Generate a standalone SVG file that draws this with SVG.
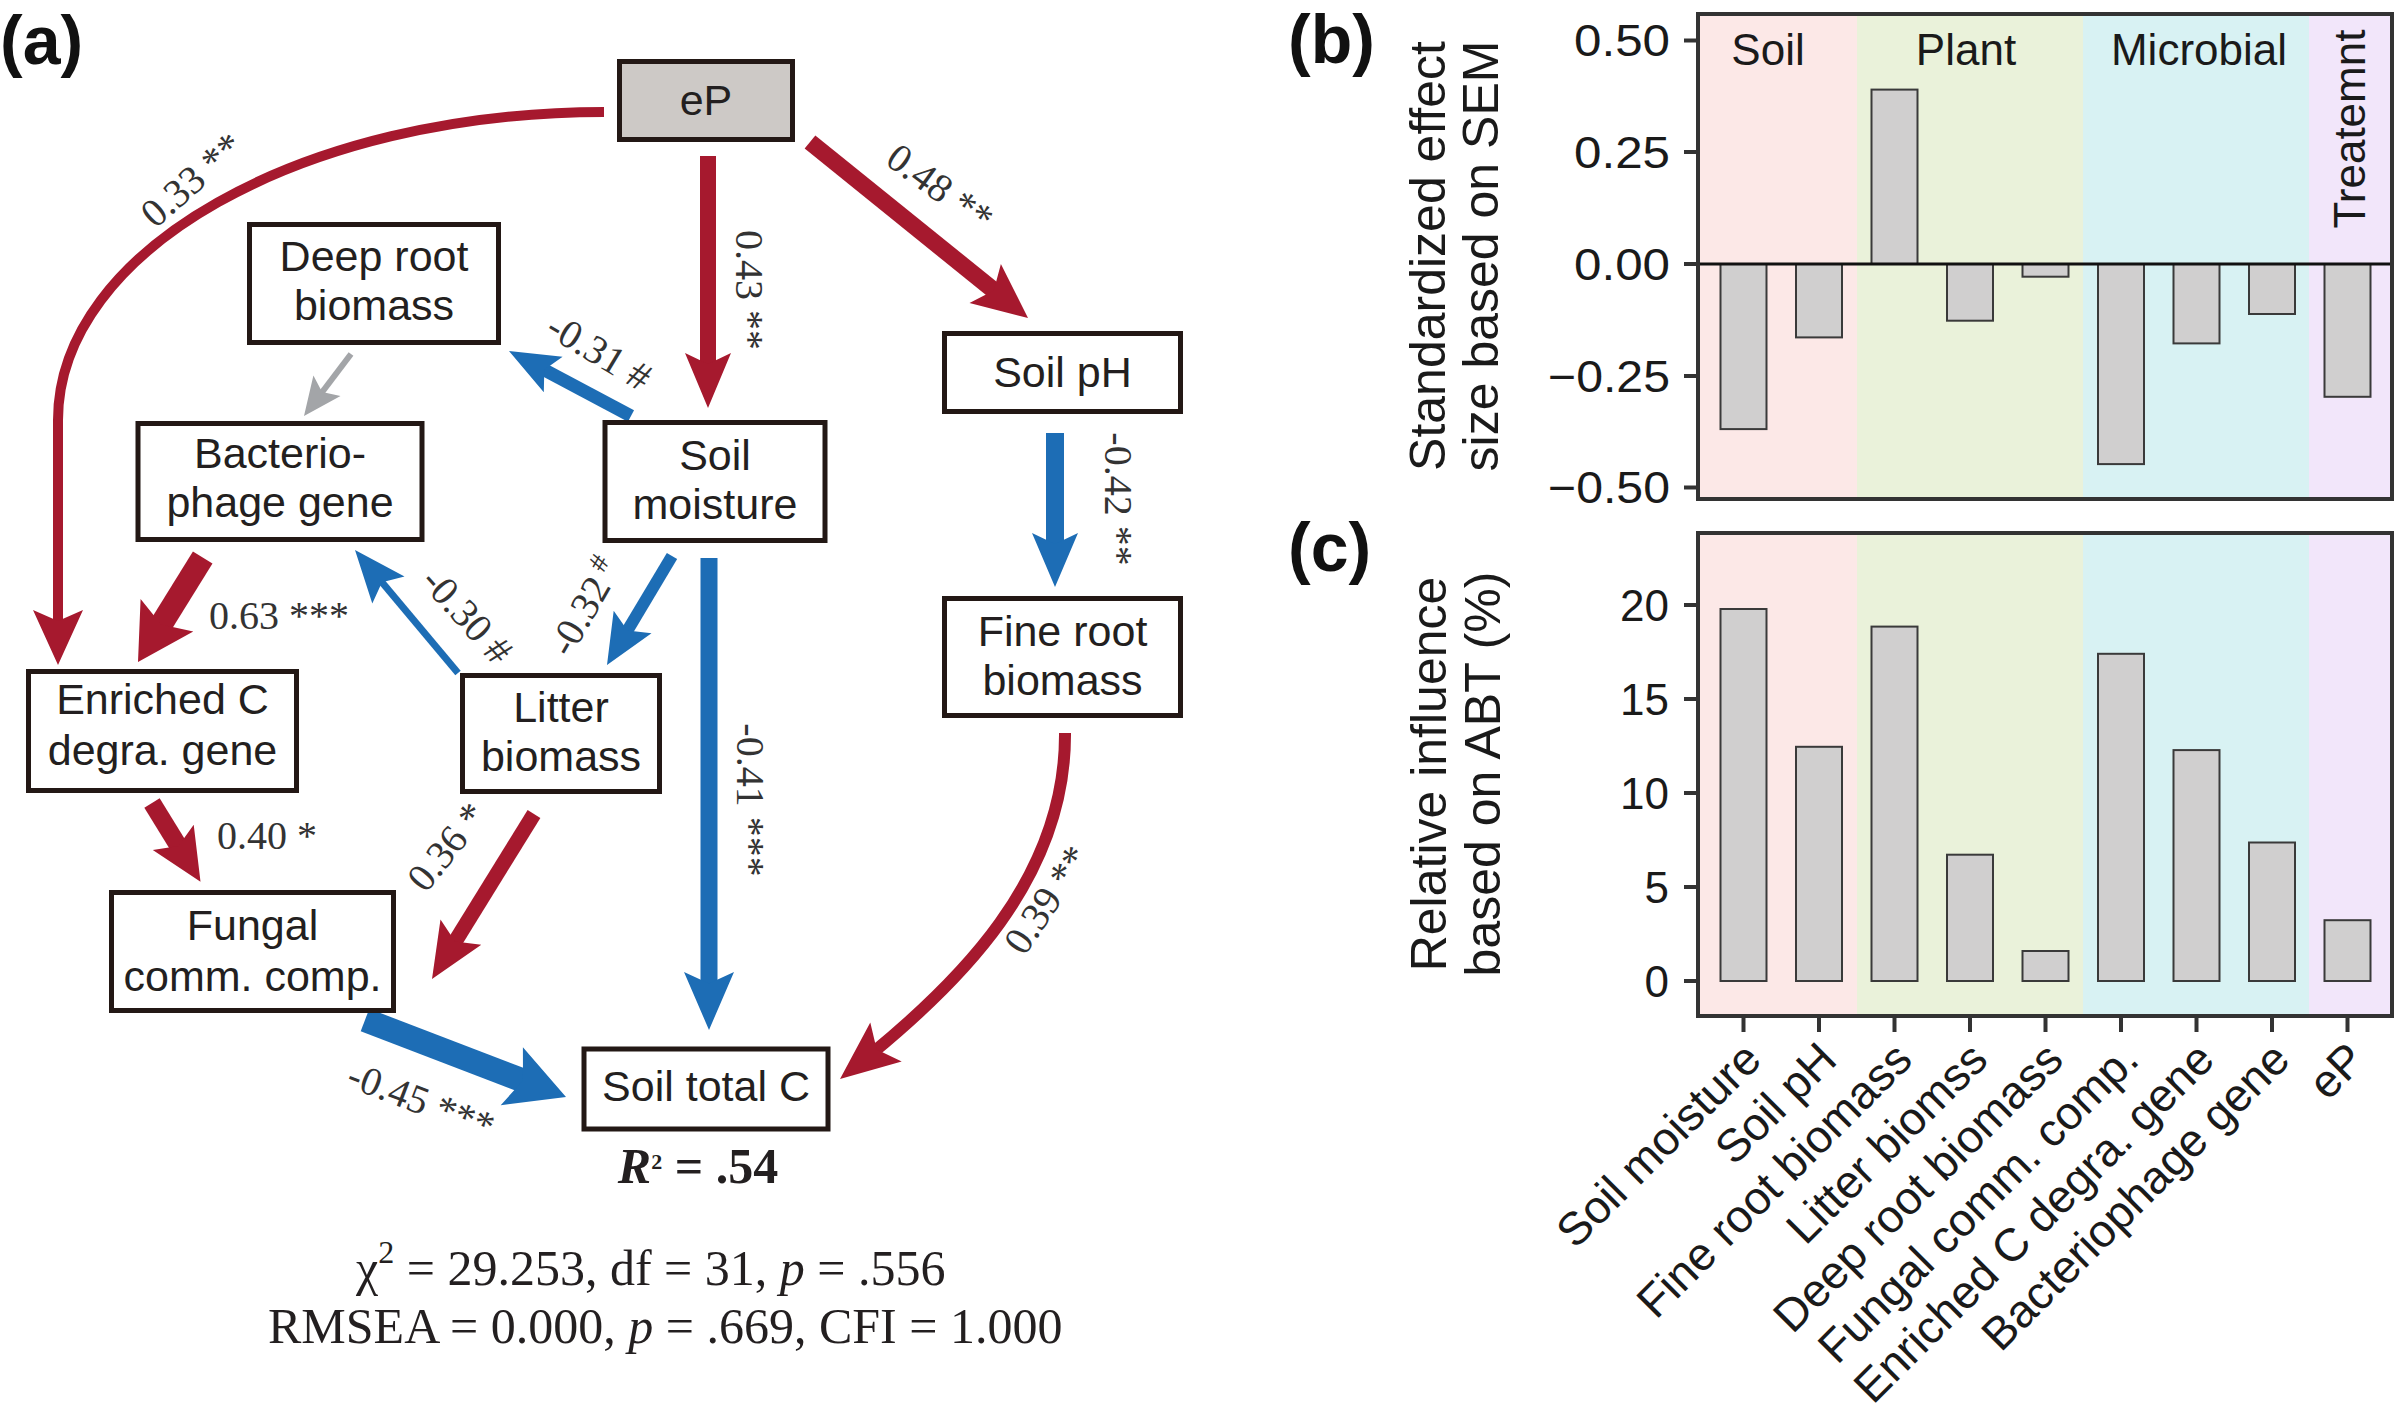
<svg xmlns="http://www.w3.org/2000/svg" width="2399" height="1411" viewBox="0 0 2399 1411">
<style>
.box{fill:#fff;stroke:#231815;stroke-width:5}
.boxg{fill:#cdc9c6;stroke:#231815;stroke-width:5}
.nt{font-family:"Liberation Sans",Arial,sans-serif;font-size:43px;fill:#231f20;text-anchor:middle}
.el{font-family:"Liberation Serif","Times New Roman",serif;font-size:40px;fill:#333;text-anchor:middle}
.r{stroke:#a6192e;fill:none}
.rf{fill:#a6192e}
.b{stroke:#1d6db5;fill:none}
.bf{fill:#1d6db5}
.g{stroke:#a3a5a8;fill:none}
.gf{fill:#a3a5a8}
.stat{font-family:"Liberation Serif","Times New Roman",serif;font-size:50px;fill:#231f20}
.plab{font-family:"Liberation Sans",Arial,sans-serif;font-weight:bold;font-size:68px;fill:#111}
.frame{fill:none;stroke:#333;stroke-width:4}
.bar{fill:#d0cfcf;stroke:#3a3a3a;stroke-width:2}
.tick{stroke:#333;stroke-width:4}
.tl{font-family:"Liberation Sans",Arial,sans-serif;font-size:44px;fill:#1a1a1a;text-anchor:end}
.at{font-family:"Liberation Sans",Arial,sans-serif;font-size:50px;fill:#1a1a1a;text-anchor:middle}
.xl{font-family:"Liberation Sans",Arial,sans-serif;font-size:46px;fill:#1a1a1a;text-anchor:end}
.cat{font-family:"Liberation Sans",Arial,sans-serif;font-size:44px;fill:#1a1a1a;text-anchor:middle}
.soil{fill:#fce8e7}.plant{fill:#eaf2da}.micro{fill:#d8f2f3}.treat{fill:#f2e6fa}
</style>

<!-- Panel labels -->
<text class="plab" x="0" y="64">(a)</text>
<text class="plab" x="1288" y="63">(b)</text>
<text class="plab" x="1288" y="571">(c)</text>

<!-- ===== Panel (a): connectors ===== -->
<g id="connectors">
  <g id="e-eP-enriched">
    <path class="r" stroke-width="10" d="M604 112 C302.6 112 58 250 58 420 L58 625"/>
    <polygon class="rf" points="58,665 83,610 58,621 33,610"/>
  </g>
  <g id="e-eP-moisture">
    <path class="r" stroke-width="16" d="M708 156 L708 370"/>
    <polygon class="rf" points="708,408 731,353 708,364 685,353"/>
  </g>
  <g id="e-eP-pH">
    <path class="r" stroke-width="17" d="M810 142 L996.9 292.9"/>
    <polygon class="rf" points="1028,318 1000.9,264 993.8,290.4 969.5,303"/>
  </g>
  <g id="e-moisture-deeproot">
    <path class="b" stroke-width="13" d="M631 416 L541.7 368.4"/>
    <polygon class="bf" points="509,351 562.6,356.8 544.3,369.8 543.8,392.2"/>
  </g>
  <g id="e-deeproot-phage">
    <path class="g" stroke-width="6" d="M351 354 L320.9 393.7"/>
    <polygon class="gf" points="304,416 340.5,396 322.1,392.1 313.4,375.4"/>
  </g>
  <g id="e-moisture-litter">
    <path class="b" stroke-width="12" d="M672 556 L625.9 633.2"/>
    <polygon class="bf" points="607,665 651.5,633.3 627.5,630.6 613.7,610.8"/>
  </g>
  <g id="e-moisture-totalC">
    <path class="b" stroke-width="17" d="M709 558 L709 990"/>
    <polygon class="bf" points="709,1030 734,972 709,983.6 684,972"/>
  </g>
  <g id="e-phage-enriched">
    <path class="r" stroke-width="23" d="M202.7 557.5 L159 628"/>
    <polygon class="rf" points="138,662 193.3,631.6 161.1,624.6 140.6,599"/>
  </g>
  <g id="e-litter-phage">
    <path class="b" stroke-width="7" d="M458 673 L380.7 580.7"/>
    <polygon class="bf" points="355,550 404.5,576.4 382,582.2 372.3,603.4"/>
  </g>
  <g id="e-enriched-fungal">
    <path class="r" stroke-width="18" d="M152 803 L180 848.5"/>
    <polygon class="rf" points="200.5,881.7 193.7,824.8 178.5,845.9 152.8,850"/>
  </g>
  <g id="e-litter-fungal">
    <path class="r" stroke-width="15" d="M534 814 L453 945"/>
    <polygon class="rf" points="432,979 481.3,944.8 455.1,941.4 440.5,919.6"/>
  </g>
  <g id="e-pH-fineroot">
    <path class="b" stroke-width="18" d="M1055 433 L1055 549"/>
    <polygon class="bf" points="1055,587 1078,533 1055,544 1032,533"/>
  </g>
  <g id="e-fineroot-totalC">
    <path class="r" stroke-width="12" d="M1065 733 C1066 880 955 985 873.1 1052.4"/>
    <polygon class="rf" points="840,1079 901.7,1061.5 876.7,1049.5 870.3,1022.5"/>
  </g>
  <g id="e-fungal-totalC">
    <path class="b" stroke-width="24" d="M365 1020 L526.8 1082"/>
    <polygon class="bf" points="566,1097 500.7,1105.2 523,1080.5 522.9,1047.3"/>
  </g>

  <!-- edge labels -->
  <g transform="translate(192,180) rotate(-41)"><text class="el" y="13">0.33 **</text></g>
  <g transform="translate(749,290) rotate(90)"><text class="el" y="13">0.43 **</text></g>
  <g transform="translate(940,188) rotate(36)"><text class="el" y="13">0.48 **</text></g>
  <g transform="translate(599,352) rotate(31)"><text class="el" y="13">-0.31 #</text></g>
  <g transform="translate(585,607) rotate(-60)"><text class="el" y="13">-0.32<tspan font-size="28" dy="-14"> #</tspan></text></g>
  <g transform="translate(467,616) rotate(48)"><text class="el" y="13">-0.30 #</text></g>
  <g transform="translate(750,800) rotate(90)"><text class="el" y="13">-0.41 ***</text></g>
  <text class="el" style="text-anchor:start" x="209" y="629">0.63 ***</text>
  <text class="el" style="text-anchor:start" x="217" y="849">0.40 *</text>
  <g transform="translate(447,847) rotate(-51)"><text class="el" y="13">0.36 *</text></g>
  <g transform="translate(1118,499) rotate(90)"><text class="el" y="13">-0.42 **</text></g>
  <g transform="translate(1047,900) rotate(-56)"><text class="el" y="13">0.39 **</text></g>
  <g transform="translate(421,1101) rotate(21)"><text class="el" y="13">-0.45 ***</text></g>
</g>

<!-- ===== Panel (a): nodes ===== -->
<g id="node-eP">
  <rect class="boxg" x="619.5" y="61.5" width="173" height="78"/>
  <text class="nt" x="706" y="115">eP</text>
</g>
<g id="node-deeproot">
  <rect class="box" x="249.5" y="224.5" width="249" height="118"/>
  <text class="nt" x="374" y="271">Deep root</text>
  <text class="nt" x="374" y="320">biomass</text>
</g>
<g id="node-phage">
  <rect class="box" x="138" y="423.5" width="284" height="116"/>
  <text class="nt" x="280" y="468">Bacterio-</text>
  <text class="nt" x="280" y="517">phage gene</text>
</g>
<g id="node-moisture">
  <rect class="box" x="605" y="422.5" width="220" height="118"/>
  <text class="nt" x="715" y="470">Soil</text>
  <text class="nt" x="715" y="519">moisture</text>
</g>
<g id="node-pH">
  <rect class="box" x="944.5" y="333.5" width="236" height="78"/>
  <text class="nt" x="1062.5" y="387">Soil pH</text>
</g>
<g id="node-fineroot">
  <rect class="box" x="944.5" y="598.5" width="236" height="117"/>
  <text class="nt" x="1062.5" y="646">Fine root</text>
  <text class="nt" x="1062.5" y="695">biomass</text>
</g>
<g id="node-enriched">
  <rect class="box" x="28.5" y="671.5" width="268" height="119"/>
  <text class="nt" x="162.5" y="714">Enriched C</text>
  <text class="nt" x="162.5" y="765">degra. gene</text>
</g>
<g id="node-litter">
  <rect class="box" x="462.5" y="675.5" width="197" height="116"/>
  <text class="nt" x="561" y="722">Litter</text>
  <text class="nt" x="561" y="771">biomass</text>
</g>
<g id="node-fungal">
  <rect class="box" x="111.5" y="892.5" width="282" height="118"/>
  <text class="nt" x="252.5" y="940">Fungal</text>
  <text class="nt" x="252.5" y="991">comm. comp.</text>
</g>
<g id="node-totalC">
  <rect class="box" x="584" y="1049" width="244" height="80"/>
  <text class="nt" x="706" y="1101">Soil total C</text>
</g>

<!-- statistics -->
<text class="stat" x="698" y="1183" text-anchor="middle" font-size="36" font-weight="bold"><tspan font-style="italic">R</tspan><tspan font-size="22" dy="-14">2</tspan><tspan dy="14"> = .54</tspan></text>
<text class="stat" x="356" y="1285">χ<tspan font-size="32" dy="-22">2</tspan><tspan dy="22"> = 29.253, df = 31, </tspan><tspan font-style="italic">p</tspan> = .556</text>
<text class="stat" x="268" y="1343">RMSEA = 0.000, <tspan font-style="italic">p</tspan> = .669, CFI = 1.000</text>

<!-- ===== Panel (b) ===== -->
<g id="panel-b">
  <rect class="soil" x="1698" y="14" width="159" height="485"/>
  <rect class="plant" x="1857" y="14" width="226" height="485"/>
  <rect class="micro" x="2083" y="14" width="226" height="485"/>
  <rect class="treat" x="2309" y="14" width="83" height="485"/>
  <text class="cat" x="1768" y="65">Soil</text>
  <text class="cat" x="1966" y="65">Plant</text>
  <text class="cat" x="2199" y="65">Microbial</text>
  <g transform="translate(2365,129) rotate(-90)"><text class="cat" x="0" y="0">Treatemnt</text></g>
  <rect class="bar" x="1720.5" y="264" width="46" height="165.1"/>
  <rect class="bar" x="1796" y="264" width="46" height="73.4"/>
  <rect class="bar" x="1871.5" y="89.6" width="46" height="174.4"/>
  <rect class="bar" x="1947" y="264" width="46" height="56.7"/>
  <rect class="bar" x="2022.5" y="264" width="46" height="12.7"/>
  <rect class="bar" x="2098" y="264" width="46" height="200.1"/>
  <rect class="bar" x="2173.5" y="264" width="46" height="79.4"/>
  <rect class="bar" x="2249" y="264" width="46" height="50"/>
  <rect class="bar" x="2324.5" y="264" width="46" height="132.8"/>
  <line x1="1698" y1="264" x2="2392" y2="264" stroke="#111" stroke-width="3"/>
  <rect class="frame" x="1698" y="14" width="694" height="485"/>
  <line class="tick" x1="1684" y1="40.5" x2="1698" y2="40.5"/>
  <line class="tick" x1="1684" y1="152" x2="1698" y2="152"/>
  <line class="tick" x1="1684" y1="264" x2="1698" y2="264"/>
  <line class="tick" x1="1684" y1="376" x2="1698" y2="376"/>
  <line class="tick" x1="1684" y1="487.5" x2="1698" y2="487.5"/>
  <text class="tl" x="1670" y="56" textLength="96" lengthAdjust="spacingAndGlyphs">0.50</text>
  <text class="tl" x="1670" y="168" textLength="96" lengthAdjust="spacingAndGlyphs">0.25</text>
  <text class="tl" x="1670" y="280" textLength="96" lengthAdjust="spacingAndGlyphs">0.00</text>
  <text class="tl" x="1670" y="392" textLength="122" lengthAdjust="spacingAndGlyphs">−0.25</text>
  <text class="tl" x="1670" y="503" textLength="122" lengthAdjust="spacingAndGlyphs">−0.50</text>
  <g transform="translate(1445,256) rotate(-90)"><text class="at" x="0" y="0">Standardized effect</text></g>
  <g transform="translate(1498,256) rotate(-90)"><text class="at" x="0" y="0">size based on SEM</text></g>
</g>

<!-- ===== Panel (c) ===== -->
<g id="panel-c">
  <rect class="soil" x="1698" y="533" width="159" height="483"/>
  <rect class="plant" x="1857" y="533" width="226" height="483"/>
  <rect class="micro" x="2083" y="533" width="226" height="483"/>
  <rect class="treat" x="2309" y="533" width="83" height="483"/>
  <rect class="bar" x="1720.5" y="609" width="46" height="372"/>
  <rect class="bar" x="1796" y="746.8" width="46" height="234.2"/>
  <rect class="bar" x="1871.5" y="626.6" width="46" height="354.4"/>
  <rect class="bar" x="1947" y="854.7" width="46" height="126.3"/>
  <rect class="bar" x="2022.5" y="951" width="46" height="30"/>
  <rect class="bar" x="2098" y="653.8" width="46" height="327.2"/>
  <rect class="bar" x="2173.5" y="750.1" width="46" height="230.9"/>
  <rect class="bar" x="2249" y="842.5" width="46" height="138.5"/>
  <rect class="bar" x="2324.5" y="920.2" width="46" height="60.8"/>
  <rect class="frame" x="1698" y="533" width="694" height="483"/>
  <line class="tick" x1="1684" y1="605" x2="1698" y2="605"/>
  <line class="tick" x1="1684" y1="699" x2="1698" y2="699"/>
  <line class="tick" x1="1684" y1="793" x2="1698" y2="793"/>
  <line class="tick" x1="1684" y1="887" x2="1698" y2="887"/>
  <line class="tick" x1="1684" y1="981" x2="1698" y2="981"/>
  <text class="tl" x="1669" y="621">20</text>
  <text class="tl" x="1669" y="715">15</text>
  <text class="tl" x="1669" y="809">10</text>
  <text class="tl" x="1669" y="903">5</text>
  <text class="tl" x="1669" y="997">0</text>
  <g transform="translate(1446,774) rotate(-90)"><text class="at" x="0" y="0">Relative influence</text></g>
  <g transform="translate(1500,774) rotate(-90)"><text class="at" x="0" y="0">based on ABT (%)</text></g>
  <line class="tick" x1="1743.5" y1="1016" x2="1743.5" y2="1032"/>
  <line class="tick" x1="1819" y1="1016" x2="1819" y2="1032"/>
  <line class="tick" x1="1894.5" y1="1016" x2="1894.5" y2="1032"/>
  <line class="tick" x1="1970" y1="1016" x2="1970" y2="1032"/>
  <line class="tick" x1="2045.5" y1="1016" x2="2045.5" y2="1032"/>
  <line class="tick" x1="2121" y1="1016" x2="2121" y2="1032"/>
  <line class="tick" x1="2196.5" y1="1016" x2="2196.5" y2="1032"/>
  <line class="tick" x1="2272" y1="1016" x2="2272" y2="1032"/>
  <line class="tick" x1="2347.5" y1="1016" x2="2347.5" y2="1032"/>
  <g transform="translate(1763.5,1062) rotate(-45)"><text class="xl">Soil moisture</text></g>
  <g transform="translate(1839,1062) rotate(-45)"><text class="xl">Soil pH</text></g>
  <g transform="translate(1914.5,1062) rotate(-45)"><text class="xl">Fine root biomass</text></g>
  <g transform="translate(1990,1062) rotate(-45)"><text class="xl">Litter biomss</text></g>
  <g transform="translate(2065.5,1062) rotate(-45)"><text class="xl">Deep root biomass</text></g>
  <g transform="translate(2141,1062) rotate(-45)"><text class="xl">Fungal comm. comp.</text></g>
  <g transform="translate(2216.5,1062) rotate(-45)"><text class="xl">Enriched C degra. gene</text></g>
  <g transform="translate(2292,1062) rotate(-45)"><text class="xl">Bacteriophage gene</text></g>
  <g transform="translate(2367.5,1062) rotate(-45)"><text class="xl">eP</text></g>
</g>
</svg>
